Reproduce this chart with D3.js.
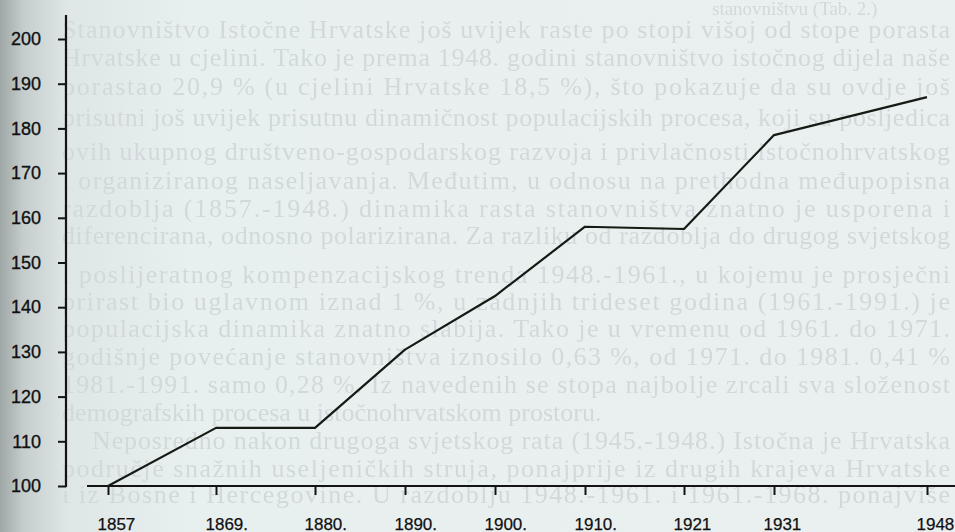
<!DOCTYPE html>
<html>
<head>
<meta charset="utf-8">
<script src="https://cdn.jsdelivr.net/npm/d3@7"></script>
<style>
  html, body { margin: 0; padding: 0; background: #e9efef; overflow: hidden; }
  svg { display: block; }
</style>
</head>
<body>
<svg id="chart"></svg>
<script>
// census years and index of population (1857 = 100)
const years = [1857, 1869, 1880, 1890, 1900, 1910, 1921, 1931, 1948];
const yearLabels = ["1857", "1869.", "1880.", "1890.", "1900.", "1910.", "1921", "1931", "1948"];
const indexValues = [100, 113, 113, 130.5, 142.5, 158, 157.5, 178.5, 187];
const yTicks = [100, 110, 120, 130, 140, 150, 160, 170, 180, 190, 200];

// faded text of the book page behind the chart
const pageHeader = "stanovništvu (Tab. 2.)";
const pageLines = [
  "Stanovništvo Istočne Hrvatske još uvijek raste po stopi višoj od stope porasta",
  "Hrvatske u cjelini. Tako je prema 1948. godini stanovništvo istočnog dijela naše",
  "porastao 20,9 % (u cjelini Hrvatske 18,5 %), što pokazuje da su ovdje još",
  "prisutni još uvijek prisutnu dinamičnost populacijskih procesa, koji su posljedica",
  "ovih ukupnog društveno-gospodarskog razvoja i privlačnosti istočnohrvatskog",
  "i organiziranog naseljavanja. Međutim, u odnosu na prethodna međupopisna",
  "razdoblja (1857.-1948.) dinamika rasta stanovništva znatno je usporena i",
  "diferencirana, odnosno polarizirana. Za razliku od razdoblja do drugog svjetskog",
  "i poslijeratnog kompenzacijskog trenda 1948.-1961., u kojemu je prosječni",
  "prirast bio uglavnom iznad 1 %, u zadnjih trideset godina (1961.-1991.) je",
  "populacijska dinamika znatno slabija. Tako je u vremenu od 1961. do 1971.",
  "godišnje povećanje stanovništva iznosilo 0,63 %, od 1971. do 1981. 0,41 %",
  "1981.-1991. samo 0,28 %. Iz navedenih se stopa najbolje zrcali sva složenost",
  "demografskih procesa u istočnohrvatskom prostoru.",
  "Neposredno nakon drugoga svjetskog rata (1945.-1948.) Istočna je Hrvatska",
  "područje snažnih useljeničkih struja, ponajprije iz drugih krajeva Hrvatske",
  "i iz Bosne i Hercegovine. U razdoblju 1948.-1961. i 1961.-1968. ponajviše"
];
const pageBaselines = [38, 66, 95, 126, 160, 189, 217, 244, 283, 310, 337, 365, 393, 421, 449, 477, 503];

const width = 955, height = 532;

const svg = d3.select("#chart")
    .attr("width", width)
    .attr("height", height);

// paper background with the darker gutter on the left
const defs = svg.append("defs");
const grad = defs.append("linearGradient").attr("id", "paper");
grad.append("stop").attr("offset", "0").attr("stop-color", "#9fa6a6");
grad.append("stop").attr("offset", "0.025").attr("stop-color", "#c6cdcd");
grad.append("stop").attr("offset", "0.07").attr("stop-color", "#dfe6e6");
grad.append("stop").attr("offset", "0.2").attr("stop-color", "#e8efef");
grad.append("stop").attr("offset", "1").attr("stop-color", "#eaf0f0");
defs.append("filter").attr("id", "soft")
  .append("feGaussianBlur").attr("stdDeviation", 0.7);

svg.append("rect")
    .attr("width", width)
    .attr("height", height)
    .attr("fill", "url(#paper)");

const page = svg.append("g")
    .attr("filter", "url(#soft)")
    .style("font-family", "'Liberation Serif', 'DejaVu Serif', serif")
    .style("font-size", "26px")
    .attr("fill", "#d1d9db");

page.append("text")
    .attr("x", 712)
    .attr("y", 15)
    .style("font-size", "19px")
    .text(pageHeader);

page.selectAll("text.line")
  .data(pageLines)
  .join("text")
    .attr("class", "line")
    .attr("x", (d, i) => i === 14 ? 92 : 62)
    .attr("y", (d, i) => pageBaselines[i])
    .attr("textLength", (d, i) => i === 13 ? null : (i === 14 ? 858 : 888))
    .attr("lengthAdjust", "spacing")
    .text(d => d);

// scales
const x = d3.scaleLinear().domain([1857, 1948]).range([108, 927]);
const y = d3.scaleLinear().domain([100, 200]).range([486, 39]);

const axisColor = "#141414";

// y axis
const yAxis = svg.append("g")
    .attr("transform", "translate(66,0)")
    .call(d3.axisLeft(y).tickValues(yTicks).tickSize(8).tickSizeOuter(0).tickPadding(17));
yAxis.select(".domain").remove();
yAxis.selectAll(".tick line").attr("stroke", axisColor).attr("stroke-width", 2);
yAxis.selectAll(".tick text")
    .attr("fill", "#111")
    .attr("stroke", "#111")
    .attr("stroke-width", 0.35)
    .style("font-family", "'Liberation Sans', Arial, sans-serif")
    .style("font-size", "18px");
yAxis.append("line")
    .attr("x1", 0).attr("x2", 0)
    .attr("y1", 15).attr("y2", 487)
    .attr("stroke", axisColor)
    .attr("stroke-width", 2.2);

// x axis
const xAxis = svg.append("g")
    .attr("transform", "translate(0,486)")
    .call(d3.axisBottom(x).tickValues(years).tickSize(9).tickSizeOuter(0)
      .tickFormat((d, i) => yearLabels[i]));
xAxis.select(".domain").remove();
xAxis.selectAll(".tick line").attr("stroke", axisColor).attr("stroke-width", 2);
xAxis.selectAll(".tick text")
    .attr("fill", "#111")
    .attr("stroke", "#111")
    .attr("stroke-width", 0.25)
    .attr("x", -11)
    .attr("y", 44)
    .attr("dy", 0)
    .style("text-anchor", "start")
    .style("font-family", "'Liberation Sans', Arial, sans-serif")
    .style("font-size", "17px");
xAxis.append("line")
    .attr("x1", 87).attr("x2", width)
    .attr("y1", 0).attr("y2", 0)
    .attr("stroke", axisColor)
    .attr("stroke-width", 2.2);

// index line
const line = d3.line()
    .x((d, i) => x(years[i]))
    .y(d => y(d));

svg.append("path")
    .datum(indexValues)
    .attr("fill", "none")
    .attr("stroke", "#161a14")
    .attr("stroke-width", 2.2)
    .attr("stroke-linejoin", "round")
    .attr("d", line);
</script>
</body>
</html>
